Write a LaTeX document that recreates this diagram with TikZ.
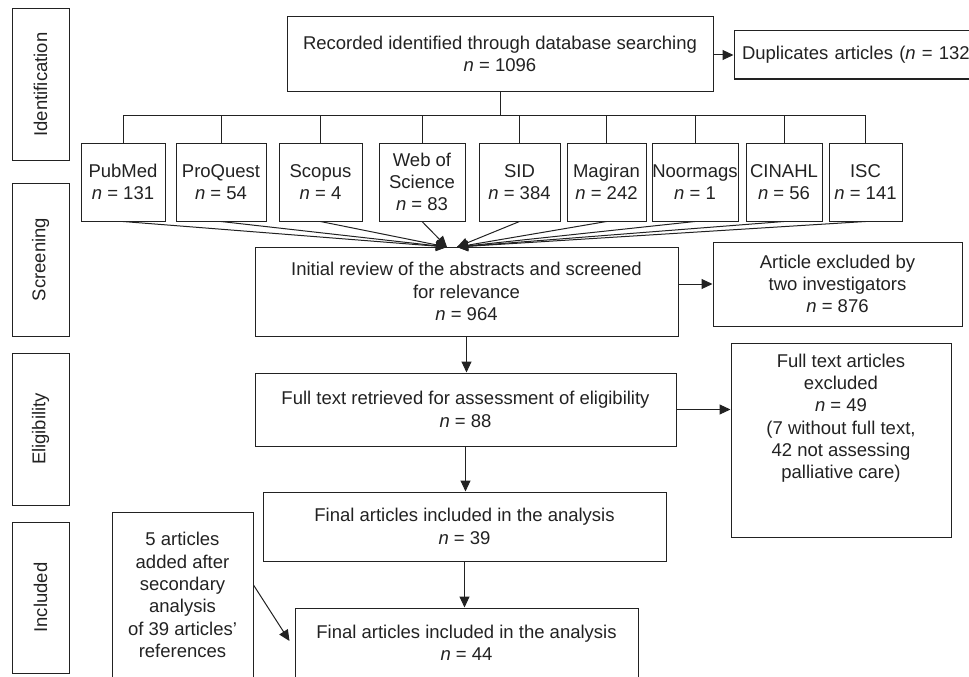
\documentclass[tikz,border=0pt]{standalone}
\usepackage{fontspec}
\setmainfont{Liberation Sans}
\usetikzlibrary{arrows.meta,calc}
\newcommand\fsz{\fontsize{18.5}{22.3}\selectfont}
\newcommand\nn{\textit{n}}
\definecolor{ink}{HTML}{222222}
\begin{document}
\begin{tikzpicture}[x=1pt,y=-1pt,
  box/.style={draw=ink, line width=1pt, inner sep=0pt, align=center, font=\fsz, text=ink},
  phase/.style={box, rotate=90, minimum height=57},
  db/.style={box, minimum height=78},
  txt/.style={inner sep=0pt, align=center, font=\fsz, text=ink},
  arr/.style={draw=ink, line width=1pt, -{Triangle[length=11pt,width=10pt]}},
  ln/.style={draw=ink, line width=1pt}]
\useasboundingbox (0,0) rectangle (969,677);
\clip (0,0) rectangle (969,677);
% phases
\node[phase, minimum width=151] (ident) at (40.5,84.5) {Identification};
\node[phase, minimum width=153] (screen) at (40.5,259.5) {Screening};
\node[phase, minimum width=152] (elig) at (40.5,429) {Eligibility};
\node[phase, minimum width=151] (incl) at (40.5,597.5) {Included};
% top
\node[box, minimum width=426, minimum height=74] (top) at (500,54) {Recorded identified through database searching\\\nn{} = 1096};
\node[box, minimum height=48, text width=250, align=left, inner xsep=8pt] (dup) at (867,55) {Duplicates articles (\nn{} = 132)};
\draw[arr] (top.east |- dup.west) -- (dup.west);
% databases
\node[db, minimum width=84] (pub) at (123,182) {PubMed\\\nn{} = 131};
\node[db, minimum width=90] (proq) at (221,182) {ProQuest\\\nn{} = 54};
\node[db, minimum width=83] (scop) at (320.5,182) {Scopus\\\nn{} = 4};
\node[db, minimum width=86] (wos) at (422,182) {Web of\\Science\\\nn{} = 83};
\node[db, minimum width=81] (sid) at (519.5,182) {SID\\\nn{} = 384};
\node[db, minimum width=79] (mag) at (606.5,182) {Magiran\\\nn{} = 242};
\node[db, minimum width=86] (noor) at (695,182) {Noormags\\\nn{} = 1};
\node[db, minimum width=76] (cin) at (784,182) {CINAHL\\\nn{} = 56};
\node[db, minimum width=73] (isc) at (865.5,182) {ISC\\\nn{} = 141};
% bus
\coordinate (busL) at (123,115);
\coordinate (busR) at (865.5,115);
\draw[ln] (busL) -- (busR);
\draw[ln] (top.south) -- (top.south |- busL);
\foreach \b in {pub,proq,scop,wos,sid,mag,noor,cin,isc}
  \draw[ln] (\b.north) -- (\b.north |- busL);
% screening
\node[box, minimum width=423, minimum height=89] (scr) at (466.5,291.5) {Initial review of the abstracts and screened\\for relevance\\\nn{} = 964};
\coordinate (c1) at (447,247);
\coordinate (c2) at (457,247);
\foreach \b in {pub,proq,scop,wos}
  \draw[arr] (\b.south) -- (c1);
\foreach \b in {sid,mag,noor,cin,isc}
  \draw[arr] (\b.south) -- (c2);
\node[box, minimum width=249, minimum height=84] (ex1) at (837.5,284) {Article excluded by\\two investigators\\\nn{} = 876};
\draw[arr] (ex1.west -| scr.east) -- (ex1.west);
% eligibility
\node[box, minimum width=421, minimum height=73] (ft) at (465.5,409.5) {Full text retrieved for assessment of eligibility\\\nn{} = 88};
\draw[arr] (scr.south) -- (scr.south |- ft.north);
\node[box, minimum width=220, minimum height=194] (ex2) at (841,440) {};
\node[txt, anchor=north, inner ysep=11pt] (ex2t) at (ex2.north) {Full text articles\\excluded\\\nn{} = 49\\(7 without full text,\\42 not assessing\\palliative care)};
\draw[arr] (ft.east) -- (ft.east -| ex2.west);
% included
\node[box, minimum width=403, minimum height=69] (fin39) at (464.5,526.5) {Final articles included in the analysis\\\nn{} = 39};
\draw[arr] (ft.south) -- (ft.south |- fin39.north);
\node[box, minimum width=343, minimum height=70] (fin44) at (466.5,643) {Final articles included in the analysis\\\nn{} = 44};
\draw[arr] (fin39.south) -- (fin39.south |- fin44.north);
\node[box, minimum width=141, minimum height=166] (add) at (182.5,595) {5 articles\\added after\\secondary\\analysis\\of 39 articles'\\references};
\draw[arr] ([yshift=10pt]add.east) -- ([xshift=-5pt,yshift=2pt]fin44.west);
\end{tikzpicture}
\end{document}
